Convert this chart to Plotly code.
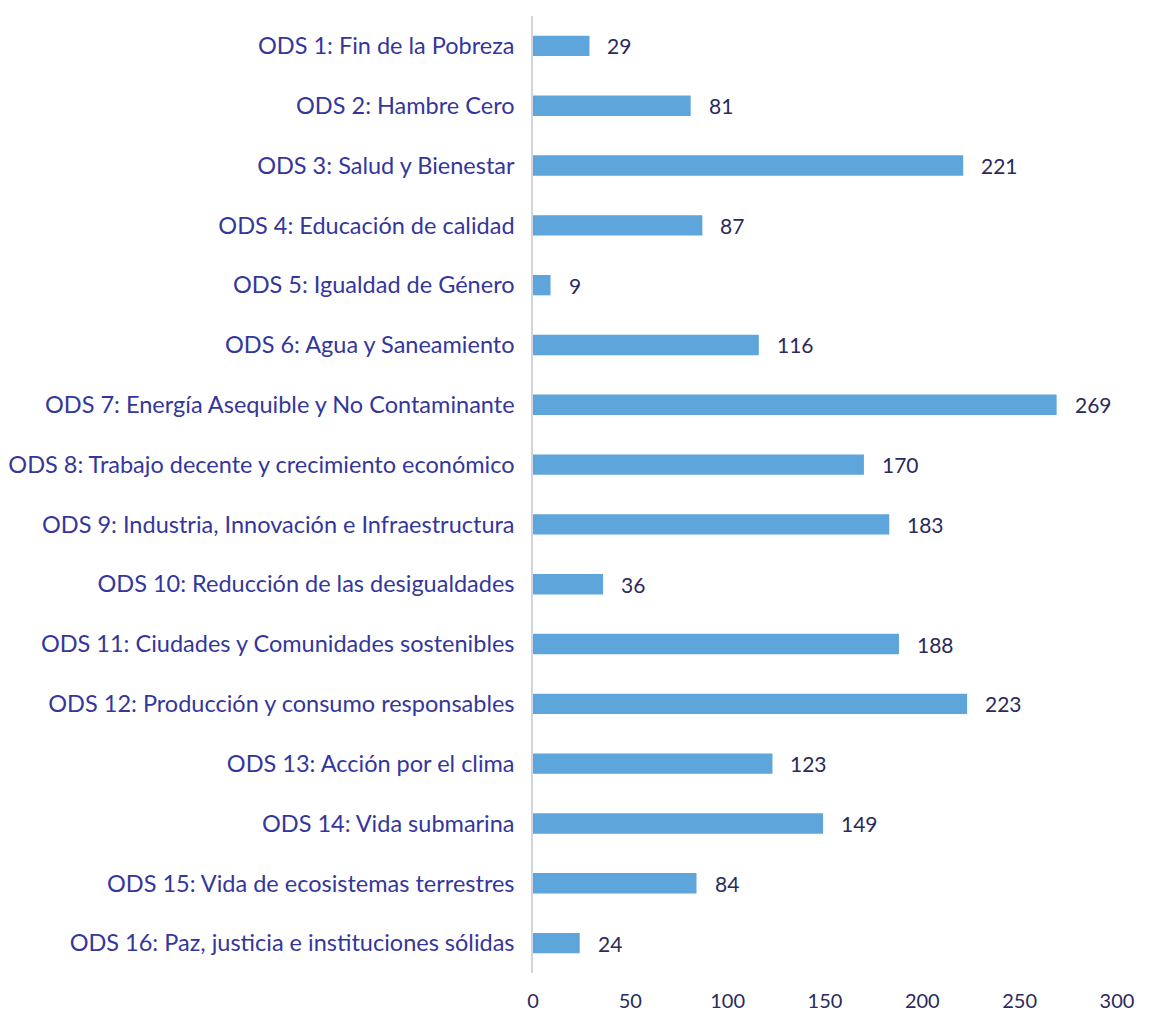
import plotly.graph_objects as go

categorias = [
    "ODS 1: Fin de la Pobreza",
    "ODS 2: Hambre Cero",
    "ODS 3: Salud y Bienestar",
    "ODS 4: Educación de calidad",
    "ODS 5: Igualdad de Género",
    "ODS 6: Agua y Saneamiento",
    "ODS 7: Energía Asequible y No Contaminante",
    "ODS 8: Trabajo decente y crecimiento económico",
    "ODS 9: Industria, Innovación e Infraestructura",
    "ODS 10: Reducción de las desigualdades",
    "ODS 11: Ciudades y Comunidades sostenibles",
    "ODS 12: Producción y consumo responsables",
    "ODS 13: Acción por el clima",
    "ODS 14: Vida submarina",
    "ODS 15: Vida de ecosistemas terrestres",
    "ODS 16: Paz, justicia e instituciones sólidas",
]
valores = [29, 81, 221, 87, 9, 116, 269, 170, 183, 36, 188, 223, 123, 149, 84, 24]
ticks_x = [0, 50, 100, 150, 200, 250, 300]

fuente = "Lato, 'Open Sans', sans-serif"
color_cat = "#34369c"
color_num = "#2a2a5c"

fig = go.Figure()
fig.add_trace(go.Bar(
    x=valores, y=categorias, orientation="h",
    marker=dict(color="#5da5da", line=dict(width=0)),
    width=0.34,
    hoverinfo="x+y",
))

for c, v in zip(categorias, valores):
    fig.add_annotation(x=v, y=c, text=str(v), showarrow=False,
                       xanchor="left", xshift=16,
                       font=dict(family=fuente, size=21, color=color_num))

fig.update_layout(
    width=1149, height=1013,
    margin=dict(l=533, r=32, t=16, b=40),
    paper_bgcolor="white", plot_bgcolor="white",
    showlegend=False,
    font=dict(family=fuente, size=20, color=color_num),
)
fig.update_xaxes(range=[0, 300], tickvals=ticks_x, showgrid=False, zeroline=False,
                 showline=False, ticks="outside", ticklen=10, tickcolor="white",
                 automargin=False,
                 tickfont=dict(family=fuente, size=20, color=color_num))
fig.update_yaxes(range=[len(categorias) - 0.5, -0.5], showgrid=False, zeroline=False,
                 showline=True, linecolor="#d3d4e0", linewidth=1.5,
                 ticks="", ticklabelstandoff=12, automargin=False,
                 tickfont=dict(family=fuente, size=23.5, color=color_cat))

# drop the default page margin so the figure sits exactly in the window
fig.write_html("out.html", config={"displayModeBar": False}, post_script=(
    "document.body.style.margin='0';"
    "document.body.style.overflow='hidden';"
    "document.documentElement.style.overflow='hidden';"
))
